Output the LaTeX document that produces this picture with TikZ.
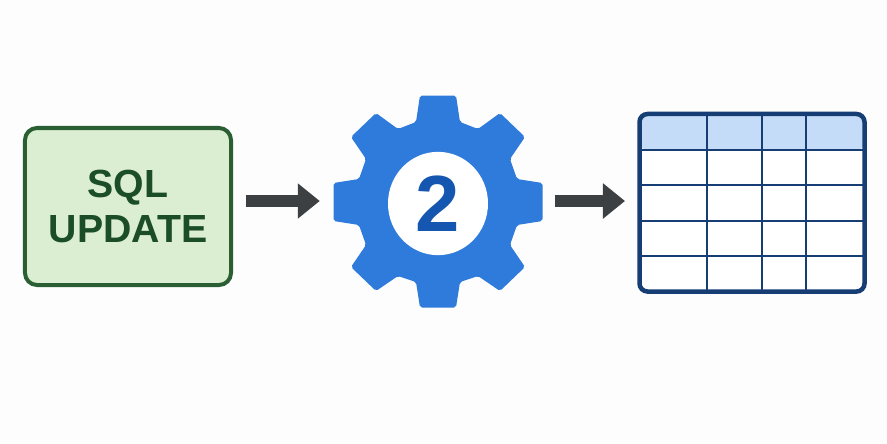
\documentclass[tikz,border=0pt]{standalone}
\usepackage{fontspec}
\setmainfont{Liberation Sans}
\usepackage{xcolor}
\usetikzlibrary{arrows.meta,positioning,shapes.geometric}

\definecolor{paper}{HTML}{FDFDFD}
\definecolor{boxfill}{HTML}{DCEED2}
\definecolor{boxline}{HTML}{2A5F33}
\definecolor{boxtext}{HTML}{1B4D28}
\definecolor{gearblue}{HTML}{2F7BDC}
\definecolor{digitblue}{HTML}{1557B0}
\definecolor{gridblue}{HTML}{163E74}
\definecolor{headblue}{HTML}{C5DCF8}
\definecolor{arrowgrey}{HTML}{3C4043}

\begin{document}
\begin{tikzpicture}[
    x=0.03cm, y=-0.03cm,
    sqlbox/.style={draw=boxline, fill=boxfill, line width=0.12cm, rounded corners=0.36cm,
                   minimum width=6.18cm, minimum height=4.71cm, align=center,
                   text=boxtext, font=\fontsize{33.5}{38.5}\selectfont\bfseries},
    gearhub/.style={ellipse, fill=white, minimum width=3cm, minimum height=3.1cm, inner sep=0pt,
                    text=digitblue, font=\fontsize{68}{68}\selectfont\bfseries},
    gearzone/.style={minimum width=6.24cm, minimum height=6.3cm, inner sep=0pt},
    tablezone/.style={fill=white, rounded corners=0.24cm, outer sep=0pt,
                      minimum width=6.75cm, minimum height=5.325cm, inner sep=0pt},
    gridline/.style={draw=gridblue, line width=0.07cm},
    flow/.style={-{Triangle[length=0.66cm, width=1.02cm]}, arrowgrey, line width=0.36cm}
]

\fill[paper] (0,0) rectangle (887,443);
\useasboundingbox (0,0) rectangle (887,443);

% --- Update statement box ---
\node[sqlbox] (sql) at (128,206.5) {SQL\\UPDATE};

% --- Gear: eight teeth, outline then hub ---
\node[gearzone] (gear) at (438,203) {};
\fill[gearblue, rounded corners=0.06cm, shift={(438,203)}]
  (-18,-107.5) -- (18,-107.5) -- (22,-81) -- (40,-74) -- (62,-90) -- (87,-66) -- (72,-44) -- (79,-24)
  -- (104.5,-20) -- (104.5,18) -- (79,22) -- (72,42) -- (87,64) -- (62,88) -- (40,73) -- (22,79)
  -- (18,104.5) -- (-18,104.5) -- (-22,79) -- (-40,73) -- (-62,88) -- (-87,64) -- (-72,42) -- (-79,22)
  -- (-104.5,18) -- (-104.5,-20) -- (-79,-24) -- (-72,-44) -- (-87,-66) -- (-62,-90) -- (-40,-74) -- (-22,-81)
  -- cycle;
\node[gearhub] (hub) at (438,203.5) {2};

% --- Result table ---
\node[tablezone] (tbl) at (752,202.75) {};
\begin{scope}
  \clip[rounded corners=0.24cm] (tbl.north west) rectangle (tbl.east |- 0,150);
  \fill[headblue] (tbl.north west) rectangle (tbl.east |- 0,150);
\end{scope}
\foreach \rowy in {150.3,185.3,220.7,255.7}
  \draw[gridline] (tbl.west |- 0,\rowy) -- (tbl.east |- 0,\rowy);
\foreach \colx in {707.3,762,806}
  \draw[gridline] (\colx,0 |- tbl.north) -- (\colx,0 |- tbl.south);
\draw[draw=gridblue, line width=0.135cm, rounded corners=0.24cm]
  (tbl.north west) rectangle (tbl.south east);

% --- Arrows ---
\draw[flow] ([shift={(13,-5.5)}]sql.east) -- ([shift={(-14,-2)}]gear.west);
\draw[flow] ([shift={(13,-2)}]gear.east) -- ([shift={(-14.5,-1.75)}]tbl.west);

\end{tikzpicture}
\end{document}
